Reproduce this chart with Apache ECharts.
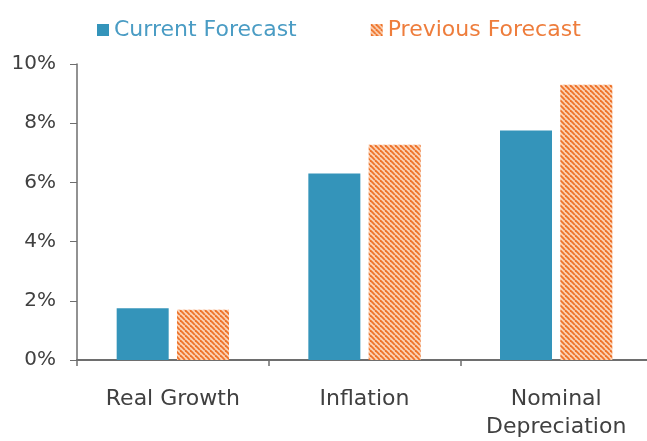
<!DOCTYPE html>
<html><head><meta charset="utf-8">
<script src="https://cdn.jsdelivr.net/npm/echarts@6/dist/echarts.min.js"></script>
<style>html,body{margin:0;padding:0;background:#fff}#wrap{width:647px;height:441px;overflow:hidden;position:relative}#c{width:652px;height:441px;position:absolute;left:0;top:0}</style>
</head><body><div id="wrap"><div id="c"></div></div>
<script>
const categories = ['Real Growth', 'Inflation', 'Nominal\nDepreciation'];
const seriesNames = ['Current Forecast', 'Previous Forecast'];
const currentForecast = [1.75, 6.3, 7.75];
const previousForecast = [1.7, 7.27, 9.3];

function makePattern() {
  const s = 5;
  const cv = document.createElement('canvas');
  cv.width = s; cv.height = s;
  const g = cv.getContext('2d');
  g.fillStyle = '#FBD3B5';
  g.fillRect(0, 0, s, s);
  g.strokeStyle = '#EE7128';
  g.lineWidth = 1.8;
  for (let k = -s; k <= 2 * s; k += s) {
    g.beginPath();
    g.moveTo(k, 0);
    g.lineTo(k + s, s);
    g.stroke();
  }
  return cv;
}
const pattern = { image: makePattern(), repeat: 'repeat' };
const blue = '#3494BA';
const font = 'DejaVu Sans';

const chart = echarts.init(document.getElementById('c'), null, { renderer: 'canvas' });
chart.setOption({
  animation: false,
  textStyle: { fontFamily: font },
  legend: {
    left: 92, top: 14,
    itemWidth: 12, itemHeight: 12, itemGap: 74,
    icon: 'rect',
    data: [
      { name: seriesNames[0], textStyle: { color: '#4A9CC4' } },
      { name: seriesNames[1], textStyle: { color: '#EE7D3C' } }
    ],
    textStyle: { fontFamily: font, fontSize: 22 }
  },
  grid: { left: 77, top: 64, right: 0, height: 309, containLabel: false },
  xAxis: {
    type: 'category', data: categories,
    axisLine: { lineStyle: { color: '#6E6E6E', width: 2 } },
    axisTick: { show: true, length: 6, lineStyle: { color: '#6E6E6E', width: 1.5 } },
    axisLabel: { color: '#404040', fontSize: 22, fontFamily: font, margin: 25, lineHeight: 28 }
  },
  yAxis: {
    type: 'value', min: 0, max: 10, interval: 2,
    axisLine: { show: true, lineStyle: { color: '#6E6E6E', width: 1.5 } },
    axisTick: { show: true, length: 7, lineStyle: { color: '#6E6E6E' } },
    splitLine: { show: false },
    axisLabel: { color: '#404040', fontSize: 20, fontFamily: font, margin: 21, formatter: v => v + '%' }
  },
  series: [
    { name: seriesNames[0], type: 'bar', data: currentForecast, barWidth: 52, barGap: '16%',
      itemStyle: { color: blue } },
    { name: seriesNames[1], type: 'bar', data: previousForecast, barWidth: 52,
      itemStyle: { color: pattern } }
  ]
});
</script></body></html>
